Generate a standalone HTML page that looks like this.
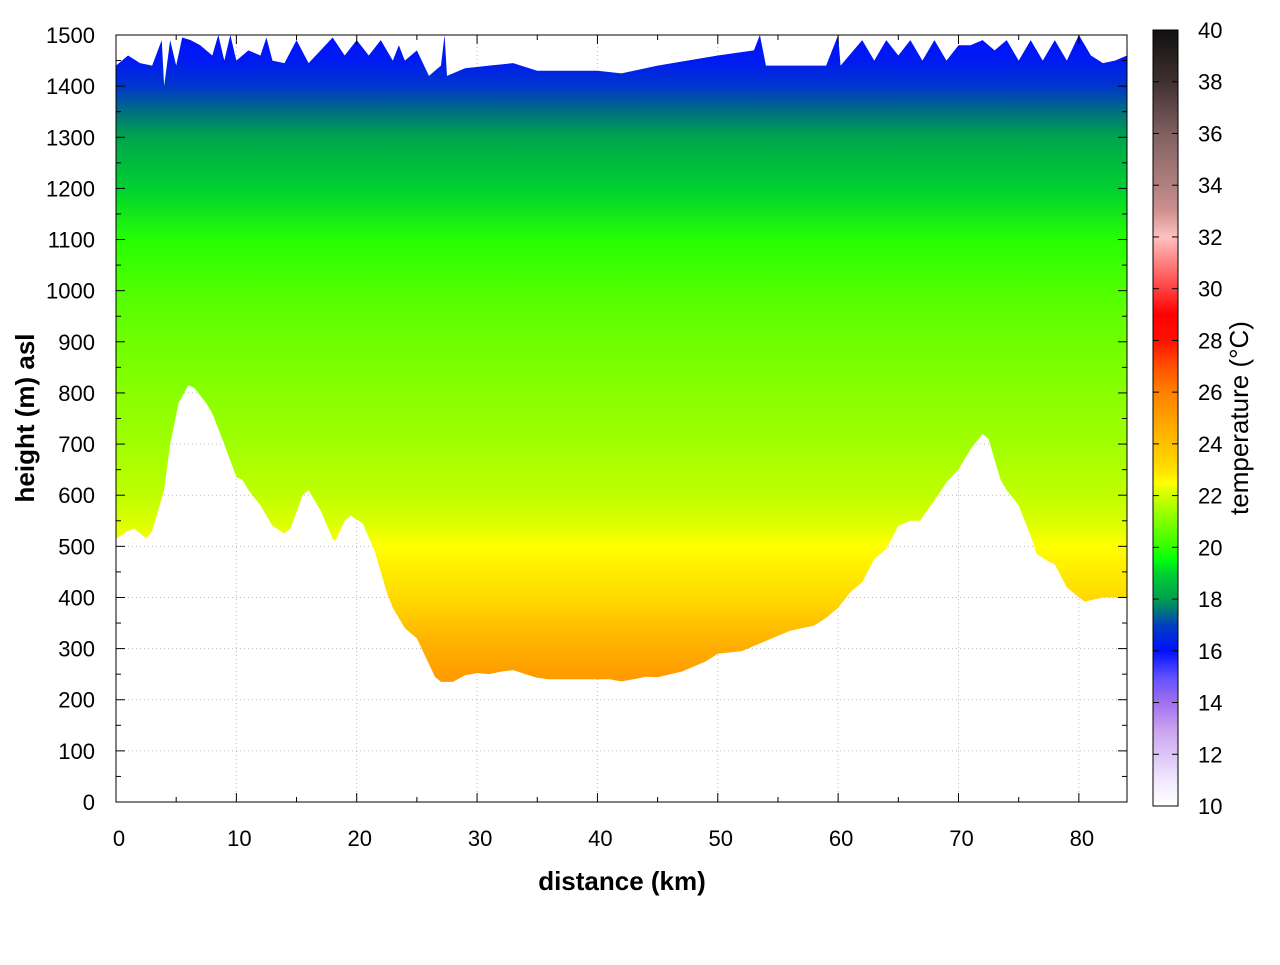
<!DOCTYPE html>
<html><head><meta charset="utf-8"><style>
body{margin:0;background:#fff}
svg text{font-family:"Liberation Sans",sans-serif;font-size:22px;fill:#000}
</style></head><body>
<svg id="c" width="1280" height="960">
<defs><linearGradient id="tg" gradientUnits="userSpaceOnUse" x1="0" x2="0"></linearGradient>
<linearGradient id="cbg" gradientUnits="userSpaceOnUse" x1="0" x2="0" y1="806" y2="30"></linearGradient></defs>
<g id="grid"></g>
<path id="field"/>
<g id="axes"></g>
<text x="622" y="890" text-anchor="middle" style="font-size:26px;font-weight:bold">distance (km)</text>
<text transform="translate(34,418) rotate(-90)" text-anchor="middle" style="font-size:26px;font-weight:bold">height (m) asl</text>
<rect x="1153" y="30" width="25" height="776" fill="url(#cbg)" stroke="#000" stroke-width="1"/>
<g id="cb"></g>
<text transform="translate(1248,418) rotate(-90)" text-anchor="middle" style="font-size:26px">temperature (°C)</text>
</svg>
<script>
const topKm=[0,1,2,3,3.8,4,4.5,5,5.5,6.2,7,8,8.5,9,9.5,10,11,12,12.5,13,14,15,16,17,18,19,20,21,22,23,23.5,24,25,26,27,27.3,27.5,29,31,33,35,40,42,45,50,53,53.5,54,59,60,60.2,62,63,64,65,66,67,68,69,70,71,72,73,74,75,76,77,78,79,80,81,82,83,84];
const topM=[1440,1460,1445,1440,1490,1400,1490,1440,1495,1490,1480,1460,1500,1450,1500,1450,1470,1460,1495,1450,1445,1490,1445,1470,1495,1460,1490,1460,1490,1450,1480,1450,1470,1420,1440,1500,1420,1435,1440,1445,1430,1430,1425,1440,1460,1470,1500,1440,1440,1500,1440,1490,1450,1490,1460,1490,1450,1490,1450,1480,1480,1490,1470,1490,1450,1490,1450,1490,1450,1500,1460,1445,1450,1460];
const groundKm=[0,1,1.5,2.5,3,4,4.5,5.2,6,6.5,7.5,8,9,10,10.5,11,12,13,14,14.5,15.5,16,17,18,18.2,19,19.5,20.5,21.5,22.5,23,24,25,26,26.5,27,28,29,30,31,32,33,34,35,36,38,40,41,42,43,44,45,47,49,50,52,54,56,58,59,60,61,62,63,64,65,66,66.8,68,69,70,71,72,72.5,73.5,74,75,76,76.5,77.5,78,79,80,80.5,82,84];
const groundM=[515,530,535,515,530,610,700,780,815,810,780,760,700,635,630,610,580,540,525,535,600,610,570,515,510,550,560,545,490,410,380,340,320,270,245,235,235,248,252,250,255,258,250,243,240,240,240,240,236,240,245,244,255,275,290,295,315,335,345,360,380,410,430,475,495,540,550,550,590,625,650,690,720,710,630,610,580,520,485,470,465,420,400,392,400,400];
const profH=[0,200,250,300,350,400,450,500,550,600,700,800,900,1000,1100,1200,1300,1350,1400,1450,1500];
const profT=[25.5,25.4,25.1,24.6,23.9,23.2,22.8,22.5,22.1,21.8,21.4,21.1,20.8,20.4,19.9,19.0,18.1,17.5,16.8,16.2,16];
const cmT=[10,11,13,14,15,16,17,17.5,18,19,19.5,20,21,22,22.5,23,24,25,26,27,28,29,30,31,32,33,34,36,38,40];
const cmC=["#ffffff","#f0e8ff","#c8a0f0","#a070f0","#6050ff","#0010ff","#0040c0","#007080","#00a050","#00d030","#00ff10","#30ff00","#80ff00","#d0ff00","#ffff00","#ffe000","#ffc000","#ffa000","#ff8000","#ff5000","#ff1000","#ff0000","#ff4040","#ff8080","#ffc0c0","#d09090","#b08080","#806060","#403030","#101010"];
const xTicks=[0,10,20,30,40,50,60,70,80];
const yTicks=[0,100,200,300,400,500,600,700,800,900,1000,1100,1200,1300,1400,1500];
const cbTicks=[10,12,14,16,18,20,22,24,26,28,30,32,34,36,38,40];
const X0=116,X1=1127,Y0=802,Y1=35;
const xs=k=>X0+k*(X1-X0)/84, ys=m=>Y0-m*(Y0-Y1)/1500, cs=t=>806-(t-10)*776/30;
const NS='http://www.w3.org/2000/svg';
function el(t,a,p){const e=document.createElementNS(NS,t);for(const k in a)e.setAttribute(k,a[k]);(p||document.getElementById('c')).appendChild(e);return e;}
function hx(c){return[1,3,5].map(i=>parseInt(c.substr(i,2),16));}
function cmap(t){for(let i=0;i<cmT.length-1;i++){if(t<=cmT[i+1]){const f=(t-cmT[i])/(cmT[i+1]-cmT[i]);const a=hx(cmC[i]),b=hx(cmC[i+1]);return 'rgb('+a.map((v,j)=>Math.round(v+(b[j]-v)*f)).join(',')+')';}}return cmC[cmC.length-1];}
const tg=document.getElementById('tg');tg.setAttribute('y1',ys(0));tg.setAttribute('y2',ys(1500));
profH.forEach((h,i)=>{el('stop',{offset:h/1500,'stop-color':cmap(profT[i])},tg);});
const cbg=document.getElementById('cbg');
cmT.forEach((t,i)=>{el('stop',{offset:(t-10)/30,'stop-color':cmC[i]},cbg);});
const grid=document.getElementById('grid');
xTicks.forEach(v=>{const l=el('line',{x1:xs(v),x2:xs(v),y1:Y1,y2:Y0,stroke:'#bbb','stroke-dasharray':'1,3'},grid);});
yTicks.forEach(v=>{const l=el('line',{x1:X0,x2:X1,y1:ys(v),y2:ys(v),stroke:'#bbb','stroke-dasharray':'1,3'},grid);});
let d='M'+xs(topKm[0])+','+ys(topM[0]);
topKm.forEach((k,i)=>{d+='L'+xs(k)+','+ys(topM[i]);});
for(let i=groundKm.length-1;i>=0;i--)d+='L'+xs(groundKm[i])+','+ys(groundM[i]);
d+='Z';
const f=document.getElementById('field');f.setAttribute('d',d);f.setAttribute('fill','url(#tg)');
const ax=document.getElementById('axes');
el('rect',{x:X0,y:Y1,width:X1-X0,height:Y0-Y1,fill:'none',stroke:'#000','stroke-width':1},ax);
for(let v=0;v<=84;v+=5){const L=v%10?5:9;el('line',{x1:xs(v),x2:xs(v),y1:Y0,y2:Y0-L,stroke:'#000'},ax);el('line',{x1:xs(v),x2:xs(v),y1:Y1,y2:Y1+L,stroke:'#000'},ax);}
for(let v=0;v<=1500;v+=50){const L=v%100?5:9;el('line',{x1:X0,x2:X0+L,y1:ys(v),y2:ys(v),stroke:'#000'},ax);el('line',{x1:X1,x2:X1-L,y1:ys(v),y2:ys(v),stroke:'#000'},ax);}
xTicks.forEach(v=>{const t=el('text',{x:xs(v)+3,y:846,'text-anchor':'middle'},ax);t.textContent=v;});
yTicks.forEach(v=>{const t=el('text',{x:95,y:ys(v)+8,'text-anchor':'end'},ax);t.textContent=v;});
const cb=document.getElementById('cb');
cbTicks.forEach(v=>{el('line',{x1:1153,x2:1159,y1:cs(v),y2:cs(v),stroke:'#000'},cb);el('line',{x1:1172,x2:1178,y1:cs(v),y2:cs(v),stroke:'#000'},cb);
const t=el('text',{x:1198,y:cs(v)+8},cb);t.textContent=v;});
</script>
</body></html>
